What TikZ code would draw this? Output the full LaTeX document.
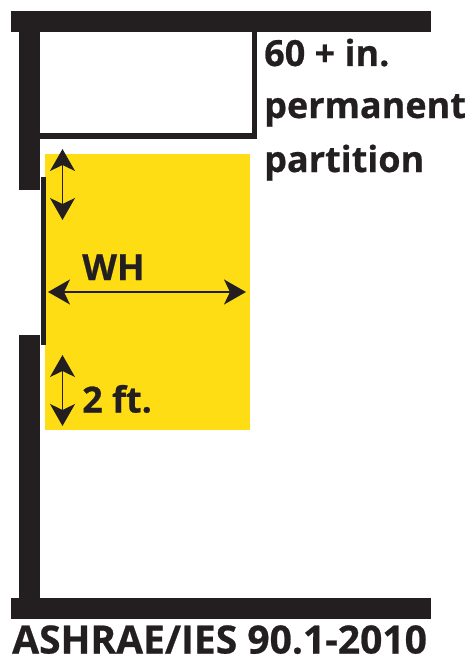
\documentclass[tikz,border=0pt]{standalone}
\usepackage{fontspec}
\setmainfont{Open Sans}[FakeBold=0.6]
\usetikzlibrary{arrows.meta}
\definecolor{ink}{HTML}{231F20}
\definecolor{zone}{HTML}{FFDD15}
\tikzset{
  wall/.style={fill=ink,draw=none},
  zonefill/.style={fill=zone,draw=none},
  dimarrow/.style={draw=ink,line width=1.5pt,{Stealth[length=22pt,width=25pt,inset=6pt]}-{Stealth[length=22pt,width=25pt,inset=6pt]}},
  lbl/.style={text=ink,inner sep=0pt,anchor=base west,font=\fontsize{36}{36}\selectfont\bfseries},
  lblbig/.style={lbl,font=\fontsize{39}{39}\selectfont\bfseries},
}
\begin{document}
\begin{tikzpicture}[x=1pt,y=-1pt]
\useasboundingbox (0,0) rectangle (471,658);
\fill[white] (0,0) rectangle (471,658);
\path[zonefill] (45,154) rectangle (250,430);
\path[wall] (11,11) rectangle (431,32);
\path[wall] (11,598) rectangle (431,619);
\path[wall] (18.5,32) rectangle (40,189.5);
\path[wall] (18.5,335) rectangle (40,598);
\path[wall] (40.5,177) rectangle (46,345);
\path[wall] (40,133) rectangle (257,138.5);
\path[wall] (251.5,32) rectangle (257,138.5);
\coordinate (a1) at (62.5,149);
\coordinate (a2) at (62.5,220);
\coordinate (b1) at (48,292);
\coordinate (b2) at (246,292);
\coordinate (c1) at (62.5,355);
\coordinate (c2) at (62.5,426);
\draw[dimarrow] (a1) -- (a2);
\draw[dimarrow] (b1) -- (b2);
\draw[dimarrow] (c1) -- (c2);
\node[lbl] (t1) at (264,66) {60 + in.};
\node[lbl] (t2) at (264,118) {permanent};
\node[lbl] (t3) at (264,172) {partition};
\node[lbl] (wh) at (82,280) {WH};
\node[lbl] (ft) at (82,412.5) {2 ft.};
\node[lblbig] (std) at (12,653.5) {ASHRAE/IES 90.1-2010};
\end{tikzpicture}
\end{document}
